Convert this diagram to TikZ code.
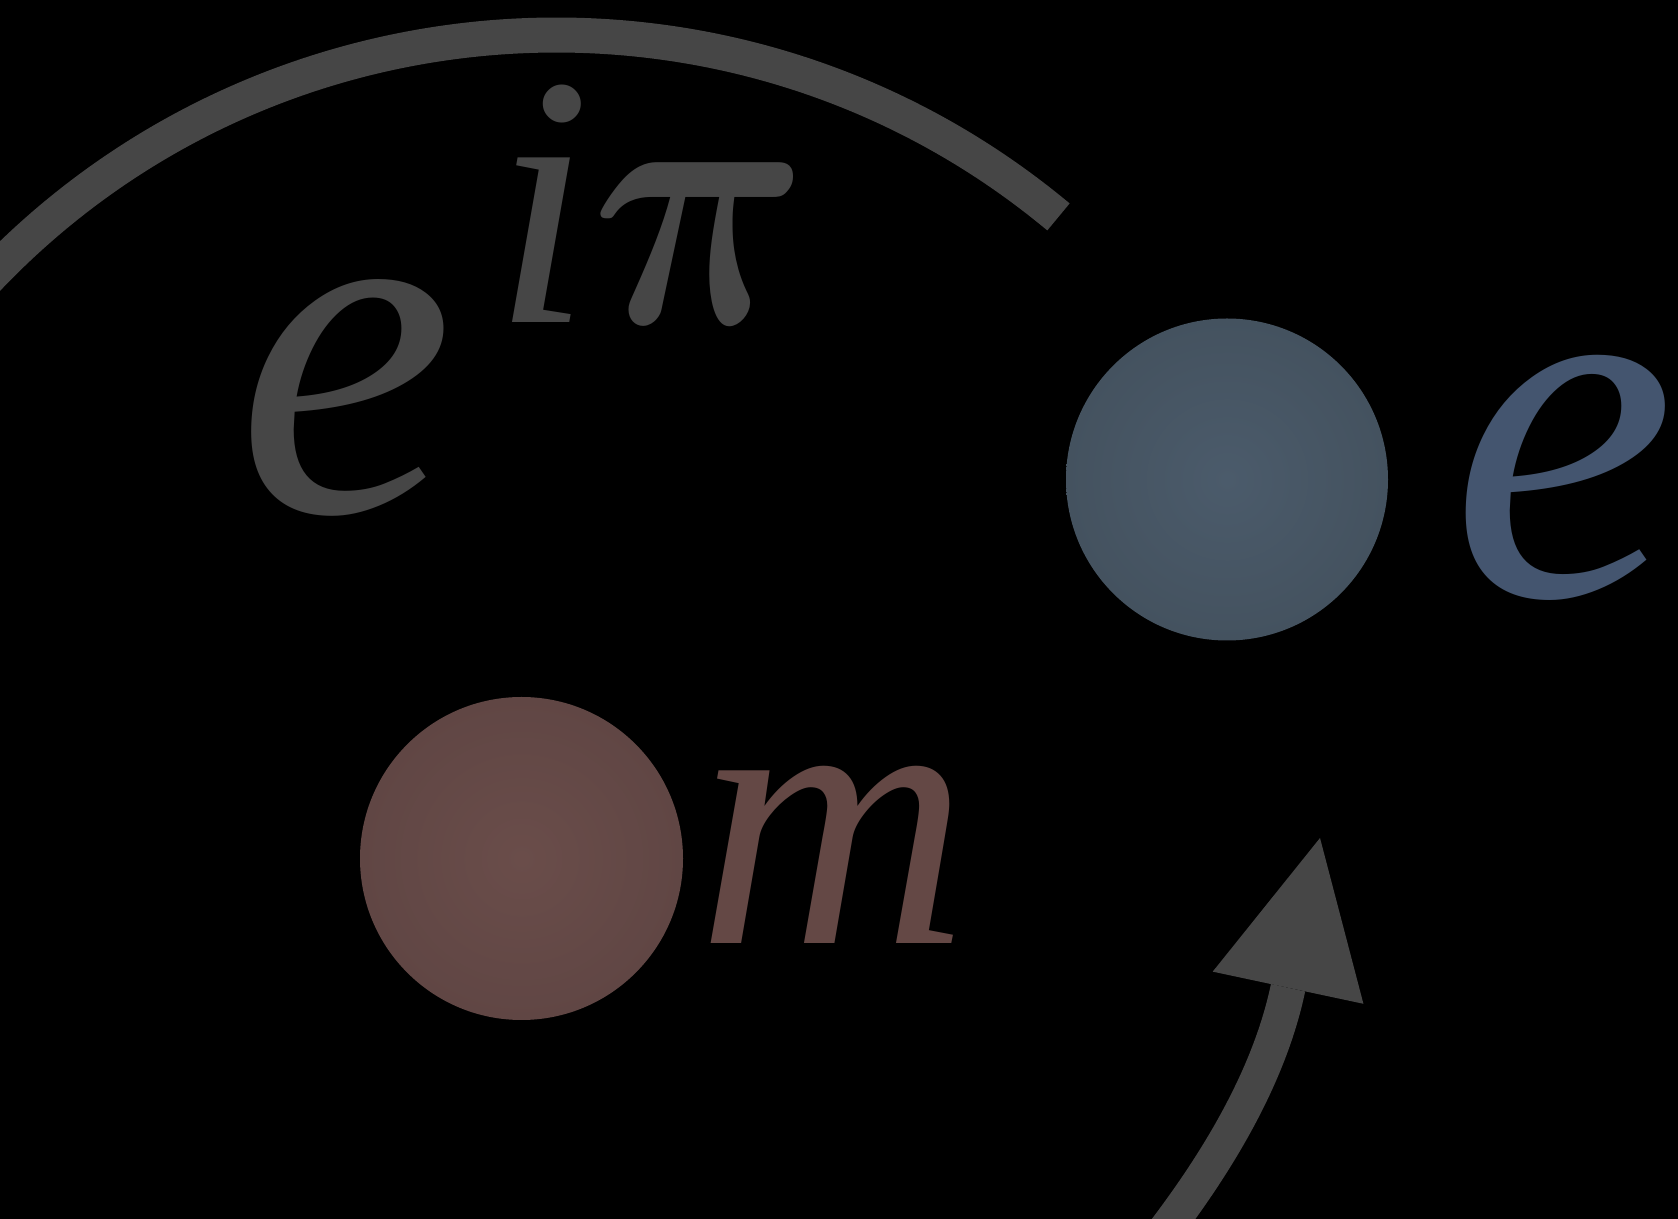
\documentclass[tikz,border=0pt]{standalone}
\usepackage{amsmath}
\usepackage{fontspec}
\setmainfont{Liberation Serif}
\usetikzlibrary{arrows.meta}
\definecolor{gry}{HTML}{464646}
\definecolor{blueIn}{HTML}{4B5B6B}
\definecolor{blueOut}{HTML}{44525F}
\definecolor{blueTxt}{HTML}{44556F}
\definecolor{redIn}{HTML}{6A4D4A}
\definecolor{redOut}{HTML}{604644}
\definecolor{redTxt}{HTML}{644845}
\tikzset{
  lbl/.style={inner sep=0pt, outer sep=0pt, anchor=base west},
  band/.style={draw=gry, line width=0.35cm},
}
\begin{document}
\begin{tikzpicture}[x=0.01cm,y=-0.01cm]
\fill[black] (0,0) rectangle (1678,1219);
\useasboundingbox (0,0) rectangle (1678,1219);
% centres
\coordinate (oc) at (556,820);
\coordinate (blueC) at (1227,479.5);
\coordinate (redC) at (521.5,858.5);
% top arc
\draw[band] ([shift={(-140:785)}]oc) arc[start angle=-140, end angle=-50.2, radius=785];
% rotation arrow
\coordinate (aS) at (1150,1250);
\coordinate (aB) at (1288,988);
\coordinate (aT) at (1320,838);
\draw[band, -{Triangle[length=1.53cm, width=1.54cm, line width=0pt]}]
  (aS) .. controls (1210,1174) and (1268,1083) .. (aB) -- (aT);
% balls
\shade[inner color=blueIn, outer color=blueOut] (blueC) circle[radius=161];
\shade[inner color=redIn, outer color=redOut] (redC) circle[radius=161.5];
% labels
\node[lbl, text=gry, font=\fontsize{140}{140}\selectfont\itshape] (eBig) at (236,512) {e};
\node[lbl, text=gry, font=\fontsize{102}{102}\selectfont\itshape] (iSup) at (492,323) {i};
\node[lbl, text=gry, xscale=8.6, yscale=10.3] (piSup) at (591,324) {$\boldsymbol{\pi}$};
\node[lbl, text=blueTxt, font=\fontsize{145}{145}\selectfont\itshape] (eBlue) at (1450,596) {e};
\node[lbl, text=redTxt, font=\fontsize{107}{107}\selectfont\itshape] (mRed) at (697,944) {m};
\end{tikzpicture}
\end{document}
